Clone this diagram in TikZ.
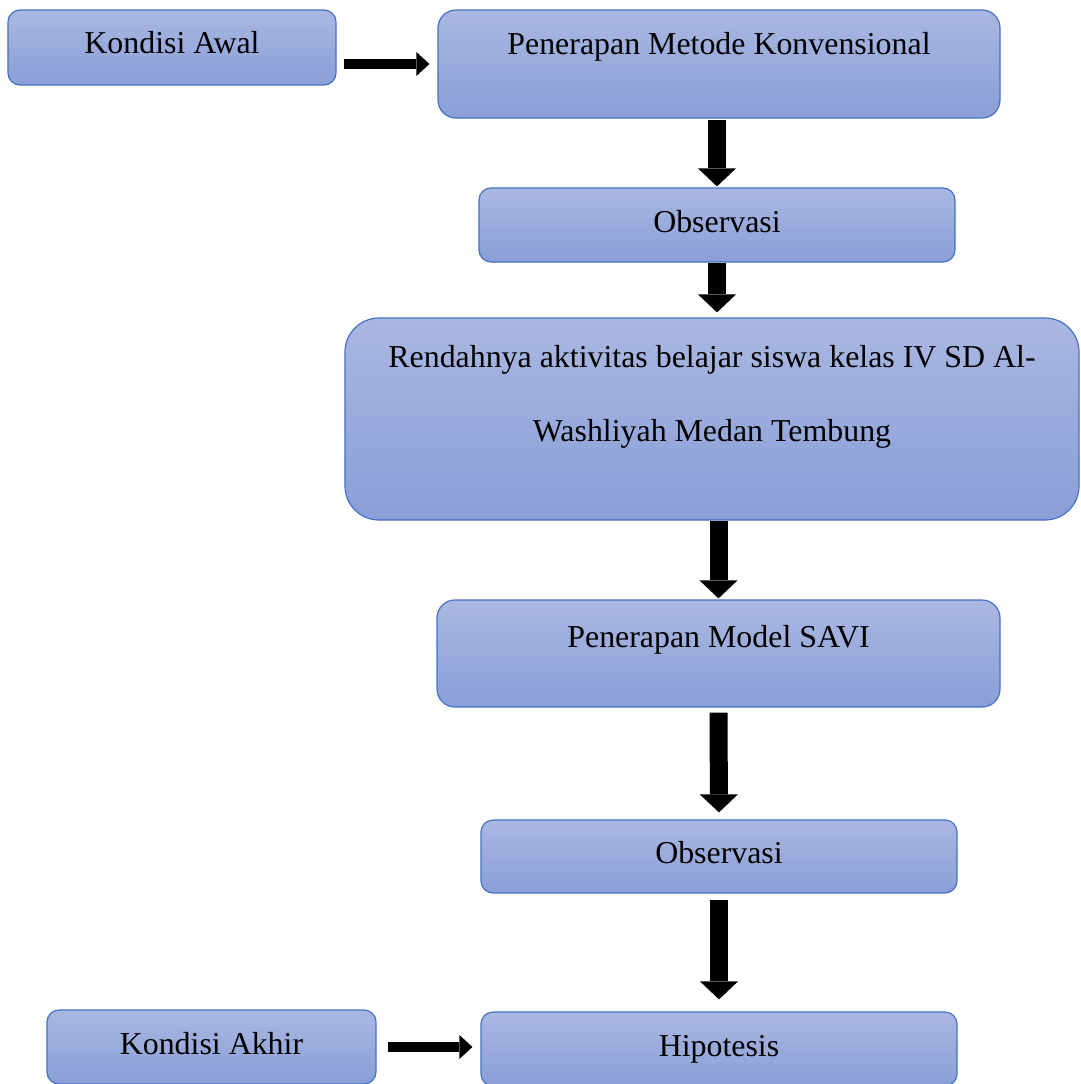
\documentclass[tikz,border=0pt]{standalone}
\usepackage{fontspec}
\setmainfont{Liberation Serif}
\usepackage{tikz}
\usetikzlibrary{shapes.geometric, arrows.meta}
\definecolor{boxtop}{RGB}{170,183,225}
\definecolor{boxbottom}{RGB}{137,159,215}
\definecolor{boxline}{RGB}{68,114,196}
\tikzstyle{box} = [rectangle, rounded corners=12bp, draw=boxline, line width=1.2bp, top color=boxtop, bottom color=boxbottom, inner sep=0pt, text centered, text height=22bp, font=\fontsize{32}{38}\selectfont]
\tikzstyle{arrow} = [line width=18bp, -{Triangle[width=38bp,length=18bp,line width=0pt]}]
\tikzstyle{harrow} = [line width=10bp, -{Triangle[width=24bp,length=13bp,line width=0pt]}]
\begin{document}
\begin{tikzpicture}[x=1bp, y=-1bp]
	\useasboundingbox (0,0) rectangle (1081,1084);
	\node(awal) [box, minimum width=328bp, minimum height=75bp, text depth=10.8bp] at (172,47.5) {Kondisi Awal};
	\node(metode) [box, rounded corners=18bp, minimum width=562bp, minimum height=108bp, text depth=40.8bp] at (719,64) {Penerapan Metode Konvensional};
	\node(obs1) [box, minimum width=476bp, minimum height=74bp, text depth=6.8bp] at (717,225) {Observasi};
	\node(rendah) [box, rounded corners=34bp, minimum width=734bp, minimum height=202bp, align=center, text height=96bp, text depth=50.8bp, font=\fontsize{32}{74}\selectfont] at (712,419) {Rendahnya aktivitas belajar siswa kelas IV SD Al-\\Washliyah Medan Tembung};
	\node(savi) [box, rounded corners=18bp, minimum width=563bp, minimum height=107bp, text depth=33.8bp] at (718.5,653.5) {Penerapan Model SAVI};
	\node(obs2) [box, minimum width=476bp, minimum height=73bp, text depth=7.8bp] at (719,856.5) {Observasi};
	\node(hipo) [box, minimum width=476bp, minimum height=74bp, text depth=7.8bp] at (719,1049) {Hipotesis};
	\node(akhir) [box, minimum width=329bp, minimum height=74bp, text depth=7.8bp] at (211.5,1047) {Kondisi Akhir};

	\draw[harrow, shorten <=7bp, shorten >=8bp] (awal.east |- metode.west) -- (metode.west);
	\draw[arrow, shorten <=1bp, shorten >=1bp] (obs1.north |- metode.south) -- (obs1.north);
	\draw[arrow, shorten >=5bp] (obs1.south) -- (obs1.south |- rendah.north);
	\draw[arrow, shorten >=1bp] (savi.north |- rendah.south) -- (savi.north);
	\draw[arrow, shorten <=5bp, shorten >=7bp] (savi.south) -- (obs2.north);
	\draw[arrow, shorten <=6bp, shorten >=12bp] (obs2.south) -- (hipo.north);
	\draw[harrow, shorten <=11bp, shorten >=8bp] (akhir.east) -- (hipo.west |- akhir.east);
\end{tikzpicture}
\end{document}
